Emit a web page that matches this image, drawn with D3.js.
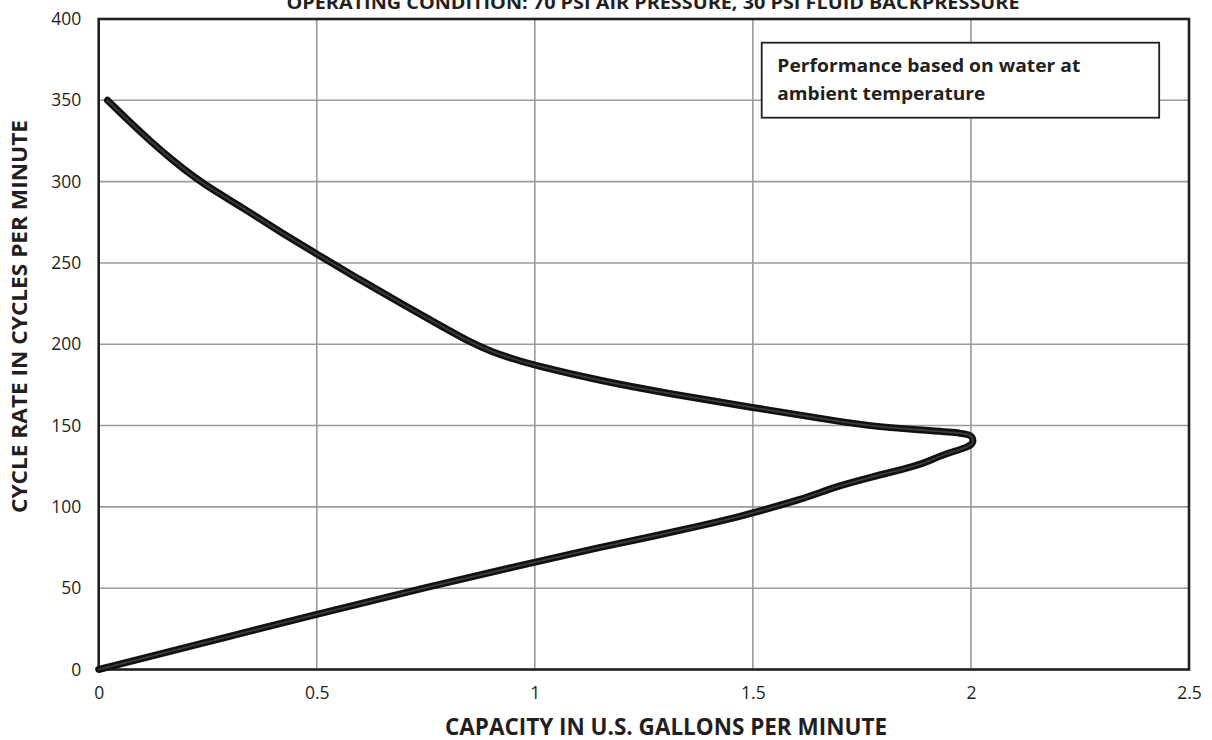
<!DOCTYPE html>
<html>
<head>
<meta charset="utf-8">
<script src="https://cdn.jsdelivr.net/npm/d3@7"></script>
<style>
  body { margin: 0; background: #fff; }
  svg { display: block; font-family: "Open Sans", "Noto Sans", sans-serif; }
</style>
</head>
<body>
<div id="chart"></div>
<script>
// curve, traced from the top-left end round the tip and back to 0
var capacity = [0.02, 0.07, 0.12, 0.17, 0.22, 0.27, 0.33, 0.41, 0.5, 0.6, 0.7, 0.8, 0.85, 0.9, 0.95, 1.0, 1.15, 1.3, 1.5, 1.7, 1.76, 1.88, 1.99,
  2.003, 2.006, 1.998, 1.94, 1.91, 1.88, 1.76, 1.70, 1.67, 1.61, 1.5, 1.45, 1.38, 1.27, 1.15, 1.0, 0.75, 0.5, 0.25, 0];
var cycleRate = [350, 337, 324.5, 313, 302.5, 293.5, 284, 270, 255.5, 239.5, 224, 209, 201.5, 195.5, 191, 187, 177.5, 170, 161, 152.5, 150, 147.3, 145.3,
  143.5, 140, 137, 132.5, 129, 125.5, 117.6, 113, 110.4, 104.5, 96.3, 92.8, 88.3, 81.8, 75.3, 66, 50.5, 34, 17, 0];

var xTicks = [0, 0.5, 1, 1.5, 2, 2.5];
var yTicks = [0, 50, 100, 150, 200, 250, 300, 350, 400];

var titleText = 'OPERATING CONDITION: 70 PSI AIR PRESSURE, 30 PSI FLUID BACKPRESSURE';
var xTitle = 'CAPACITY IN U.S. GALLONS PER MINUTE';
var yTitle = 'CYCLE RATE IN CYCLES PER MINUTE';
var noteLines = ['Performance based on water at', 'ambient temperature'];

var W = 1212, H = 740;
// plot edges (note: "top" is reserved on window, so px-prefixed names)
var pxLeft = 98.7, pxTop = 19, pxRight = 1189, pxBottom = 669.5;
var ink = '#231f20';

var svg = d3.select('#chart').append('svg')
  .attr('width', W)
  .attr('height', H);

var x = d3.scaleLinear().domain([0, 2.5]).range([pxLeft, pxRight]);
var y = d3.scaleLinear().domain([0, 400]).range([pxBottom, pxTop]);

// grid
var grid = svg.append('g');
grid.selectAll('line.gx')
  .data(xTicks.slice(1, -1))
  .enter().append('line')
    .attr('class', 'gx')
    .attr('x1', function(d) { return x(d); })
    .attr('x2', function(d) { return x(d); })
    .attr('y1', pxTop)
    .attr('y2', pxBottom)
    .attr('stroke', '#9a9a9a')
    .attr('stroke-width', 1.6);
grid.selectAll('line.gy')
  .data(yTicks.slice(1, -1))
  .enter().append('line')
    .attr('class', 'gy')
    .attr('x1', pxLeft)
    .attr('x2', pxRight)
    .attr('y1', function(d) { return y(d); })
    .attr('y2', function(d) { return y(d); })
    .attr('stroke', '#9a9a9a')
    .attr('stroke-width', 1.6);

// tick labels via axes
var xAxis = svg.append('g')
  .attr('transform', 'translate(0,' + pxBottom + ')')
  .call(d3.axisBottom(x).tickValues(xTicks).tickSize(0).tickPadding(17.5)
    .tickFormat(function(d) { return String(d); }));
var yAxis = svg.append('g')
  .attr('transform', 'translate(' + pxLeft + ',0)')
  .call(d3.axisLeft(y).tickValues(yTicks).tickSize(0).tickPadding(17.5)
    .tickFormat(function(d) { return String(d); }));
[xAxis, yAxis].forEach(function(a) {
  a.select('.domain').remove();
  a.selectAll('text')
    .attr('font-family', '"Open Sans", sans-serif')
    .attr('font-size', 17.5)
    .attr('fill', ink);
});

// plot frame
svg.append('rect')
  .attr('x', pxLeft)
  .attr('y', pxTop)
  .attr('width', pxRight - pxLeft)
  .attr('height', pxBottom - pxTop)
  .attr('fill', 'none')
  .attr('stroke', ink)
  .attr('stroke-width', 2.6);

// note box
var note = svg.append('g');
note.append('rect')
  .attr('x', 761.7)
  .attr('y', 42.7)
  .attr('width', 397.5)
  .attr('height', 75)
  .attr('fill', '#fff')
  .attr('stroke', ink)
  .attr('stroke-width', 1.8);
note.selectAll('text')
  .data(noteLines)
  .enter().append('text')
    .attr('x', 777.3)
    .attr('y', function(d, i) { return 71.7 + i * 28.3; })
    .attr('font-size', 17.5)
    .attr('font-weight', 'bold')
    .attr('fill', ink)
    .attr('textLength', function(d, i) { return i == 0 ? 303 : 208; })
    .attr('lengthAdjust', 'spacingAndGlyphs')
    .text(function(d) { return d; });

// the curve (B-spline smooths the hand-read points)
var pts = capacity.map(function(c, i) { return [c, cycleRate[i]]; });
var line = d3.line()
  .x(function(d) { return x(d[0]); })
  .y(function(d) { return y(d[1]); })
  .curve(d3.curveBasis);

svg.append('path')
  .attr('d', line(pts))
  .attr('fill', 'none')
  .attr('stroke', '#111')
  .attr('stroke-width', 7)
  .attr('stroke-linejoin', 'round')
  .attr('stroke-linecap', 'round');
svg.append('path')
  .attr('d', line(pts))
  .attr('fill', 'none')
  .attr('stroke', '#3c3c3c')
  .attr('stroke-width', 1.8)
  .attr('stroke-linejoin', 'round')
  .attr('stroke-linecap', 'round');

// titles
svg.append('text')
  .attr('x', 653)
  .attr('y', 8.5)
  .attr('text-anchor', 'middle')
  .attr('font-size', 17)
  .attr('font-weight', 'bold')
  .attr('fill', ink)
  .attr('textLength', 733)
  .attr('lengthAdjust', 'spacingAndGlyphs')
  .text(titleText);

svg.append('text')
  .attr('x', 666)
  .attr('y', 735)
  .attr('text-anchor', 'middle')
  .attr('font-size', 23)
  .attr('font-weight', 'bold')
  .attr('fill', ink)
  .attr('textLength', 442)
  .attr('lengthAdjust', 'spacingAndGlyphs')
  .text(xTitle);

svg.append('text')
  .attr('transform', 'translate(26.5,316.5) rotate(-90)')
  .attr('text-anchor', 'middle')
  .attr('font-size', 21)
  .attr('font-weight', 'bold')
  .attr('fill', ink)
  .attr('textLength', 393)
  .attr('lengthAdjust', 'spacingAndGlyphs')
  .text(yTitle);
</script>
</body>
</html>
